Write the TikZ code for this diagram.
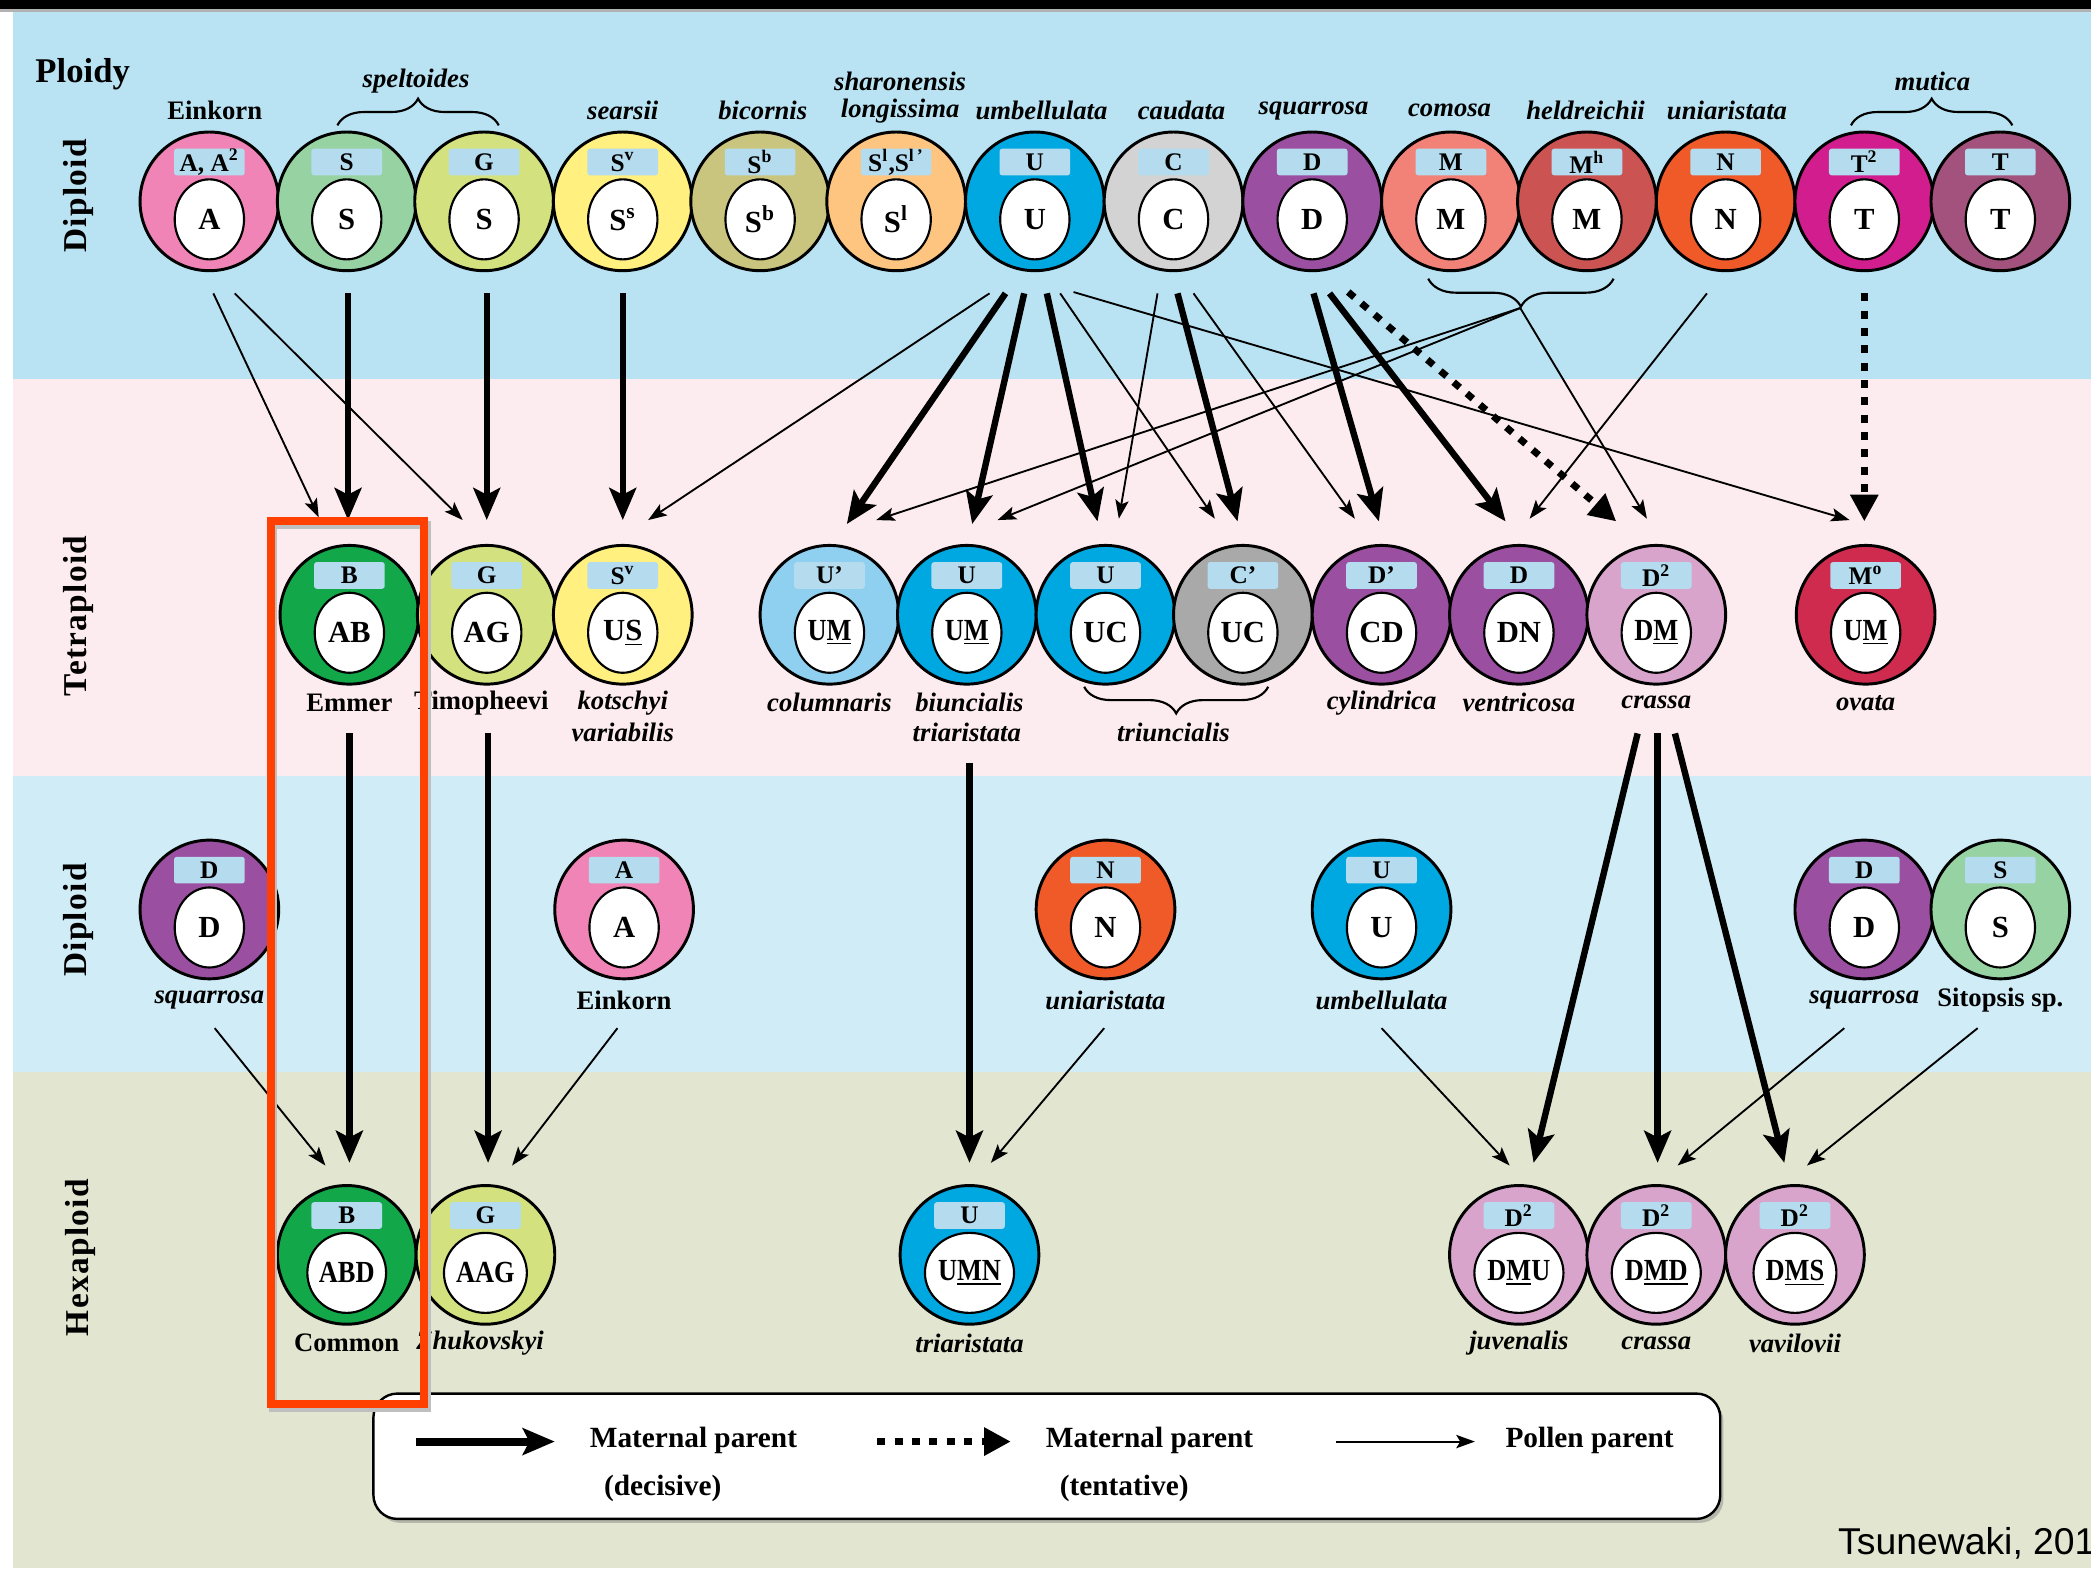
\documentclass[tikz,border=0pt]{standalone}
\usepackage{fontspec}
\usepackage{graphicx}
\setmainfont{Liberation Serif}
\newfontfamily\sansf{Liberation Sans}
\newfontfamily\sidefont[LetterSpace=4]{Liberation Serif}
\usetikzlibrary{arrows.meta,decorations.pathreplacing,shapes.geometric,shadows}
\definecolor{bandA}{RGB}{185,227,242}
\definecolor{bandB}{RGB}{252,236,240}
\definecolor{bandC}{RGB}{208,236,247}
\definecolor{bandD}{RGB}{226,229,207}
\definecolor{lbl}{RGB}{180,220,238}
\definecolor{cA}{RGB}{240,132,182}
\definecolor{cS}{RGB}{151,211,162}
\definecolor{cG}{RGB}{211,226,127}
\definecolor{cSv}{RGB}{255,240,128}
\definecolor{cSb}{RGB}{201,197,126}
\definecolor{cSl}{RGB}{253,197,127}
\definecolor{cU}{RGB}{0,168,225}
\definecolor{cC}{RGB}{211,211,211}
\definecolor{cD}{RGB}{154,79,160}
\definecolor{cM}{RGB}{242,129,120}
\definecolor{cMh}{RGB}{203,84,82}
\definecolor{cN}{RGB}{240,90,40}
\definecolor{cTt}{RGB}{210,29,143}
\definecolor{cT}{RGB}{162,82,124}
\definecolor{cB}{RGB}{18,168,74}
\definecolor{cUp}{RGB}{143,207,239}
\definecolor{cCp}{RGB}{169,169,169}
\definecolor{cDd}{RGB}{217,164,204}
\definecolor{cMo}{RGB}{206,43,78}
\definecolor{hl}{RGB}{255,64,0}
\newcommand\spc[6]{%
  \node[ring, fill=#4] (#1) at (#2,#3) {};
  \node[gbox] (#1-b) at (#2,#3-29.5) {#5};
  \node[inell] (#1-i) at (#2,#3+13.5) {#6};}
\newcommand\nar[1]{\scalebox{0.86}[1]{#1}}
\tikzset{
  ring/.style={circle, draw=black, line width=1.1pt, minimum size=52pt, inner sep=0pt},
  gbox/.style={fill=lbl, minimum width=26.5pt, minimum height=10pt, inner sep=0pt, rounded corners=1pt, font=\bfseries\fontsize{9.5}{10}\selectfont},
  inell/.style={ellipse, draw=black, line width=0.8pt, fill=white, minimum width=26pt, minimum height=30pt, inner sep=0pt, font=\bfseries\fontsize{11.5}{13}\selectfont},
  lab/.style={font=\bfseries\itshape\fontsize{10}{12}\selectfont, inner sep=0pt},
  labr/.style={font=\bfseries\fontsize{10}{12}\selectfont, inner sep=0pt},
  legt/.style={font=\bfseries\fontsize{11}{13}\selectfont, inner sep=0pt},
  side/.style={rotate=90, font=\sidefont\bfseries\fontsize{12.5}{14}\selectfont, inner sep=0pt},
  thickarr/.style={line width=2.4pt, -{Stealth[length=12pt,width=10pt,inset=2.5pt]}},
  thinarr/.style={line width=0.7pt, -{Stealth[length=7pt,width=5pt,inset=1.5pt]}},
  dotarr/.style={line width=2.6pt, dash pattern=on 3pt off 3.5pt, -{Triangle[length=10pt,width=10pt]}},
  brc/.style={decorate, line width=0.8pt},
}
\begin{document}
\begin{tikzpicture}[x=0.5pt, y=-0.5pt]
\path[use as bounding box] (0,0) rectangle (1568,1176);
\clip (0,0) rectangle (1568,1176);
% backgrounds
\fill[white] (0,0) rectangle (1568,1176);
\fill[bandA] (10,8) rectangle (1568,284);
\fill[bandB] (10,284) rectangle (1568,582);
\fill[bandC] (10,582) rectangle (1568,804);
\fill[bandD] (10,804) rectangle (1568,1176);
\fill[black] (0,0) rectangle (1568,7);
\fill[gray!60] (0,7) rectangle (1568,9);

% side labels
\node[font=\bfseries\fontsize{13}{15}\selectfont, inner sep=0pt] (ploidy) at (62,56) {Ploidy};
\node[side] (s1) at (59,147) {Diploid};
\node[side] (s2) at (59,462) {Tetraploid};
\node[side] (s3) at (59,690) {Diploid};
\node[side] (s4) at (60,943) {Hexaploid};

% top row
\spc{tA}{157}{151}{cA}{A, A\textsuperscript{2}}{A}
\spc{tS}{260}{151}{cS}{S}{S}
\spc{tG}{363}{151}{cG}{G}{S}
\spc{tSv}{467}{151}{cSv}{S\textsuperscript{v}}{S\textsuperscript{s}}
\spc{tSb}{570}{151}{cSb}{S\textsuperscript{b}}{S\textsuperscript{b}}
\spc{tSl}{672}{151}{cSl}{S\textsuperscript{l},S\textsuperscript{l\,'}}{S\textsuperscript{l}}
\spc{tU}{776}{151}{cU}{U}{U}
\spc{tC}{880}{151}{cC}{C}{C}
\spc{tD}{984}{151}{cD}{D}{D}
\spc{tM}{1088}{151}{cM}{M}{M}
\spc{tMh}{1190}{151}{cMh}{M\textsuperscript{h}}{M}
\spc{tN}{1294}{151}{cN}{N}{N}
\spc{tT2}{1398}{151}{cTt}{T\textsuperscript{2}}{T}
\spc{tT}{1500}{151}{cT}{T}{T}

% top labels
\node[labr] (lEin) at (161,83) {Einkorn};
\node[lab] (lspe) at (312,61) {speltoides};
\node[lab] (lsea) at (467,83) {searsii};
\node[lab] (lbic) at (572,83) {bicornis};
\node[lab] (lsha) at (675,61) {sharonensis};
\node[lab] (llon) at (675,83) {longissima};
\node[lab] (lumb) at (781,83) {umbellulata};
\node[lab] (lcau) at (886,83) {caudata};
\node[lab] (lsqu) at (985,83) {squarrosa};
\node[lab] (lcom) at (1087,83) {comosa};
\node[lab] (lhel) at (1189,83) {heldreichii};
\node[lab] (luni) at (1295,83) {uniaristata};
\node[lab] (lmut) at (1449,61) {mutica};
\draw[brc, decoration={brace, amplitude=10pt}] (253,94) -- (374,94);
\draw[brc, decoration={brace, amplitude=10pt}] (1388,94) -- (1509,94);
\draw[brc, decoration={brace, mirror, amplitude=10.5pt}] (1071,209) -- (1210,209);
\coordinate (bM) at (1140,231);

% tetraploid row
\spc{eB}{262}{461}{cB}{B}{AB}
\spc{eG}{365}{461}{cG}{G}{AG}
\spc{eSv}{467}{461}{cSv}{S\textsuperscript{v}}{U\underline{S}}
\spc{eUp}{622}{461}{cUp}{U'}{\nar{U\underline{M}}}
\spc{eU1}{725}{461}{cU}{U}{\nar{U\underline{M}}}
\spc{eU2}{829}{461}{cU}{U}{UC}
\spc{eCp}{932}{461}{cCp}{C'}{UC}
\spc{eDp}{1036}{461}{cD}{D'}{CD}
\spc{eD}{1139}{461}{cD}{D}{DN}
\spc{eDd}{1242}{461}{cDd}{D\textsuperscript{2}}{\nar{D\underline{M}}}
\spc{eMo}{1399}{461}{cMo}{M\textsuperscript{o}}{\nar{U\underline{M}}}

\node[labr] (lEmm) at (262,527) {Emmer};
\node[labr] (lTim) at (361,527) {Timopheevi};
\node[lab] (lkot) at (467,527) {kotschyi};
\node[lab] (lvar) at (467,549) {variabilis};
\node[lab] (lcol) at (622,527) {columnaris};
\node[lab] (lbiu) at (727,527) {biuncialis};
\node[lab] (ltri) at (725,549) {triaristata};
\node[lab] (ltrc) at (880,549) {triuncialis};
\draw[brc, decoration={brace, mirror, amplitude=10pt}] (813,515) -- (951,515);
\node[lab] (lcyl) at (1036,527) {cylindrica};
\node[lab] (lven) at (1139,527) {ventricosa};
\node[lab] (lcra) at (1242,527) {crassa};
\node[lab] (lova) at (1399,527) {ovata};

% middle diploid row
\spc{mD}{157}{682}{cD}{D}{D}
\spc{mA}{468}{682}{cA}{A}{A}
\spc{mN}{829}{682}{cN}{N}{N}
\spc{mU}{1036}{682}{cU}{U}{U}
\spc{mD2}{1398}{682}{cD}{D}{D}
\spc{mS}{1500}{682}{cS}{S}{S}
\node[lab] (lmsq) at (157,750) {squarrosa};
\node[labr] (lmEi) at (468,750) {Einkorn};
\node[lab] (lmun) at (829,750) {uniaristata};
\node[lab] (lmum) at (1036,750) {umbellulata};
\node[lab] (lmsq2) at (1398,750) {squarrosa};
\node[labr] (lmsi) at (1500,750) {Sitopsis sp.};

% hexaploid row
\spc{hB}{260}{941}{cB}{B}{\nar{ABD}}
\spc{hG}{364}{941}{cG}{G}{\nar{AAG}}
\spc{hU}{727}{941}{cU}{U}{\nar{U\underline{MN}}}
\spc{hD1}{1139}{941}{cDd}{D\textsuperscript{2}}{\nar{D\underline{M}U}}
\spc{hD2}{1242}{941}{cDd}{D\textsuperscript{2}}{\nar{D\underline{MD}}}
\spc{hD3}{1346}{941}{cDd}{D\textsuperscript{2}}{\nar{D\underline{MS}}}
\node[labr] (lhCo) at (260,1007) {Common};
\node[lab] (lhZh) at (360,1007) {Zhukovskyi};
\node[lab] (lhtr) at (727,1007) {triaristata};
\node[lab] (lhju) at (1139,1007) {juvenalis};
\node[lab] (lhcr) at (1242,1007) {crassa};
\node[lab] (lhva) at (1346,1007) {vavilovii};

% arrows: diploid -> tetraploid
\draw[thinarr] ([shift={(3,69)}]tA.center) -- ([shift={(-23,-73)}]eB.center);
\draw[thinarr] ([shift={(19,69)}]tA.center) -- ([shift={(-18,-71)}]eG.center);
\draw[thickarr] ([shift={(1,69)}]tS.center) -- ([shift={(-1,-71)}]eB.center);
\draw[thickarr] ([shift={(2,69)}]tG.center) -- ([shift={(0,-71)}]eG.center);
\draw[thickarr] ([shift={(0,69)}]tSv.center) -- ([shift={(0,-71)}]eSv.center);
\draw[thinarr] ([shift={(-34,69)}]tU.center) -- ([shift={(19,-71)}]eSv.center);
\draw[thickarr] ([shift={(-22,69)}]tU.center) -- ([shift={(13,-68)}]eUp.center);
\draw[thickarr] ([shift={(-8,69)}]tU.center) -- ([shift={(4,-68)}]eU1.center);
\draw[thinarr] (bM) -- ([shift={(35,-71)}]eUp.center);
\draw[thinarr] (bM) -- ([shift={(23,-71)}]eU1.center);
\draw[thickarr] ([shift={(9,69)}]tU.center) -- ([shift={(-6,-70)}]eU2.center);
\draw[thinarr] ([shift={(-12,69)}]tC.center) -- ([shift={(10,-72)}]eU2.center);
\draw[thinarr] ([shift={(19,69)}]tU.center) -- ([shift={(-21,-72)}]eCp.center);
\draw[thickarr] ([shift={(3,69)}]tC.center) -- ([shift={(-4,-70)}]eCp.center);
\draw[thinarr] ([shift={(15,69)}]tC.center) -- ([shift={(-20,-72)}]eDp.center);
\draw[thickarr] ([shift={(1,69)}]tD.center) -- ([shift={(-2,-70)}]eDp.center);
\draw[thickarr] ([shift={(13,69)}]tD.center) -- ([shift={(-10,-70)}]eD.center);
\draw[dotarr] ([shift={(27,68)}]tD.center) -- ([shift={(-30,-70)}]eDd.center);
\draw[thinarr] ([shift={(29,68)}]tU.center) -- ([shift={(-12,-71)}]eMo.center);
\draw[thinarr] ([shift={(-14,69)}]tN.center) -- ([shift={(8,-72)}]eD.center);
\draw[thinarr] (bM) -- ([shift={(-7,-72)}]eDd.center);
\draw[dotarr] ([shift={(0,69)}]tT2.center) -- ([shift={(-1,-70)}]eMo.center);

% arrows: tetraploid -> hexaploid
\draw[thickarr] ([shift={(0,89)}]eB.center) -- ([shift={(2,-69)}]hB.center);
\draw[thickarr] ([shift={(1,89)}]eG.center) -- ([shift={(2,-69)}]hG.center);
\draw[thickarr] ([shift={(2,111)}]eU1.center) -- ([shift={(0,-69)}]hU.center);
\draw[thickarr] ([shift={(-14,89)}]eDd.center) -- ([shift={(11,-69)}]hD1.center);
\draw[thickarr] ([shift={(1,89)}]eDd.center) -- ([shift={(1,-69)}]hD2.center);
\draw[thickarr] ([shift={(14,89)}]eDd.center) -- ([shift={(-8,-69)}]hD3.center);

% arrows: diploid -> hexaploid
\draw[thinarr] ([shift={(4,89)}]mD.center) -- ([shift={(-16,-67)}]hB.center);
\draw[thinarr] ([shift={(-5,89)}]mA.center) -- ([shift={(20,-67)}]hG.center);
\draw[thinarr] ([shift={(-1,89)}]mN.center) -- ([shift={(16,-69)}]hU.center);
\draw[thinarr] ([shift={(0,89)}]mU.center) -- ([shift={(-7,-67)}]hD1.center);
\draw[thinarr] ([shift={(-15,89)}]mD2.center) -- ([shift={(16,-67)}]hD2.center);
\draw[thinarr] ([shift={(-17,89)}]mS.center) -- ([shift={(9,-67)}]hD3.center);

% legend
\node[draw, rounded corners=9pt, fill=white, line width=0.9pt, minimum width=505pt, minimum height=47pt,
  drop shadow={opacity=0.45, shadow xshift=1.2pt, shadow yshift=-1.5pt}] (leg) at (785,1092) {};
\coordinate (g1a) at (312,1081); \coordinate (g1b) at (416,1081);
\coordinate (g2a) at (658,1081); \coordinate (g2b) at (758,1081);
\coordinate (g3a) at (1002,1081); \coordinate (g3b) at (1106,1081);
\draw[thickarr, line width=3pt] (g1a) -- (g1b);
\draw[dotarr] (g2a) -- (g2b);
\draw[thinarr] (g3a) -- (g3b);
\node[legt] (t1a) at (520,1080) {Maternal parent};
\node[legt] (t1b) at (497,1116) {(decisive)};
\node[legt] (t2a) at (862,1080) {Maternal parent};
\node[legt] (t2b) at (843,1116) {(tentative)};
\node[legt] (t3) at (1192,1080) {Pollen parent};

\node[anchor=base west, inner sep=0pt, font=\sansf\fontsize{14}{16}\selectfont] (cite) at (1378,1166) {Tsunewaki, 2010};

% highlight (with faint shadow)
\draw[black!25, line width=3pt] (205,394) rectangle (320,1056);
\draw[hl, line width=3pt] (203,391) rectangle (318,1053);
\end{tikzpicture}
\end{document}
